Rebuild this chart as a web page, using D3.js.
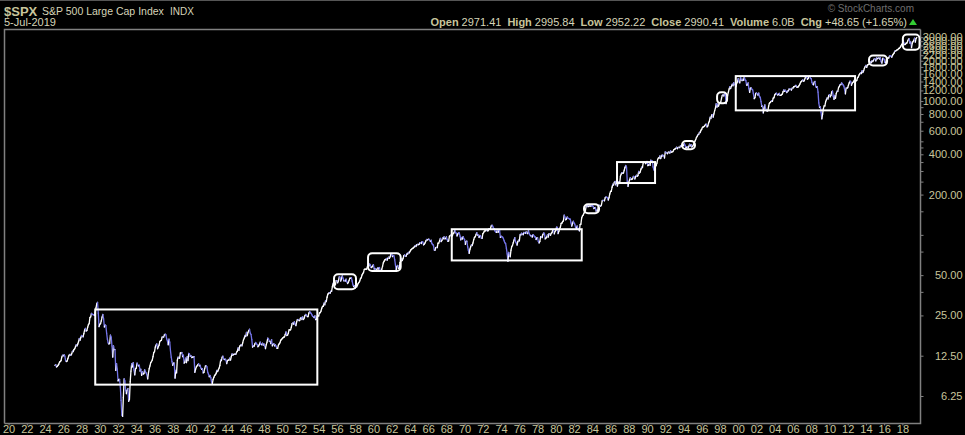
<!DOCTYPE html>
<html><head><meta charset="utf-8">
<script src="https://cdn.jsdelivr.net/npm/d3@7"></script>
<style>
html,body{margin:0;padding:0;background:#000;}
svg{display:block;font-family:"Liberation Sans",Arial,sans-serif;}
</style></head>
<body>
<svg id="chart" width="965" height="435"></svg>
<script>
// ---- data ----
const startYear = 1925;           // first monthly close is Jan 1925
const monthlyClose = [
// 1925
10.6,10.7,10.3,10.4,10.6,10.8,11.2,11.3,11.5,12.2,12.6,12.5,
// 1926
12.7,12.4,11.5,11.3,11.4,11.9,12.4,12.7,12.8,12.6,12.9,13.5,
// 1927
13.4,13.9,14.1,14.6,15.1,14.8,15.3,15.9,16.8,16.3,17.1,17.7,
// 1928
17.5,17.3,18.3,19.4,20.0,19.1,19.3,20.4,21.3,21.7,24.1,24.4,
// 1929
25.9,25.5,25.4,25.3,25.0,26.5,28.5,30.5,31.3,26.0,20.6,21.5,
// 1930
21.7,22.8,24.3,25.4,23.6,20.5,21.2,21.0,18.4,16.6,15.6,15.3,
// 1931
15.5,17.8,17.2,14.8,12.2,14.8,13.9,13.9,9.7,10.9,9.9,8.1,
// 1932
8.3,8.3,7.3,5.8,4.5,4.4,6.1,8.4,8.1,6.9,6.5,6.9,
// 1933
7.1,5.7,5.9,8.0,9.6,10.9,10.3,11.1,9.8,9.0,10.0,10.1,
// 1934
11.0,10.7,10.5,10.6,9.6,9.9,8.9,9.5,9.1,9.2,9.8,9.5,
// 1935
9.3,9.0,8.4,9.3,10.0,10.5,11.1,11.3,11.6,12.3,13.2,13.4,
// 1936
14.5,15.0,15.3,14.1,14.6,15.0,16.0,16.2,16.3,17.2,17.3,17.2,
// 1937
17.9,18.1,17.9,16.7,16.1,15.1,16.6,15.8,13.6,12.2,11.3,10.6,
// 1938
11.0,11.0,8.5,9.7,9.3,11.6,12.2,12.0,12.0,13.1,13.1,13.2,
// 1939
12.3,12.6,11.0,11.2,12.0,11.1,12.3,11.5,13.0,12.9,12.4,12.5,
// 1940
12.1,12.2,12.2,12.3,9.4,9.9,10.3,10.5,10.7,10.9,10.5,10.6,
// 1941
10.1,9.9,10.0,9.3,9.4,10.0,10.5,10.5,10.3,9.4,9.1,8.7,
// 1942
8.9,8.6,8.0,7.7,8.3,8.6,8.9,9.0,9.2,9.7,9.5,9.8,
// 1943
10.1,10.6,11.6,11.5,12.2,12.4,11.8,11.7,11.8,11.6,10.9,11.5,
// 1944
11.6,11.6,12.0,11.6,12.3,12.9,12.6,12.8,12.8,12.9,12.8,13.3,
// 1945
13.5,14.3,13.7,14.7,14.9,15.1,14.8,15.6,16.4,16.9,17.7,17.4,
// 1946
18.7,17.7,18.7,19.2,19.7,18.4,18.0,16.5,14.5,14.8,14.7,15.3,
// 1947
15.7,15.4,15.2,14.6,14.8,15.2,15.8,15.2,15.1,15.5,15.0,15.3,
// 1948
14.7,14.1,15.1,15.8,16.9,16.7,16.0,16.0,15.4,16.5,14.8,15.2,
// 1949
15.4,14.8,15.1,14.7,14.2,14.2,15.0,15.3,15.6,16.3,16.5,16.8,
// 1950
17.0,17.2,17.3,18.0,18.8,17.7,17.8,18.4,19.5,19.5,19.5,20.4,
// 1951
21.7,22.0,21.5,22.4,21.5,21.0,22.4,23.3,23.3,22.9,22.9,23.8,
// 1952
24.1,23.3,24.4,23.3,23.9,25.0,25.4,25.0,24.5,24.5,26.0,26.6,
// 1953
26.4,25.9,25.3,24.6,24.5,24.1,24.8,23.3,23.4,24.5,24.8,24.8,
// 1954
26.1,26.2,26.9,28.3,29.2,29.2,30.9,30.0,32.3,31.7,34.2,36.0,
// 1955
36.6,37.0,36.6,38.0,37.9,41.0,43.5,43.2,43.7,42.3,45.5,45.5,
// 1956
43.8,45.3,48.5,48.4,45.2,47.0,49.4,47.5,45.4,45.6,45.1,46.7,
// 1957
44.7,43.3,44.1,45.7,47.4,47.4,47.9,45.2,42.4,41.1,41.7,40.0,
// 1958
41.7,40.8,42.1,43.4,44.1,45.2,47.2,47.8,50.1,51.3,52.5,55.2,
// 1959
55.4,55.4,55.4,57.6,58.7,58.5,60.5,59.6,56.9,57.5,58.3,59.9,
// 1960
55.6,56.1,55.3,54.4,55.8,56.9,55.5,57.0,53.5,53.4,55.5,58.1,
// 1961
61.8,63.4,65.1,65.3,66.6,64.6,66.8,68.1,66.7,68.6,71.3,71.6,
// 1962
68.8,70.0,69.6,65.2,59.6,54.8,58.2,59.1,56.3,56.5,62.3,63.1,
// 1963
66.2,64.3,66.6,69.8,70.8,69.4,69.1,72.5,71.7,74.0,73.2,75.0,
// 1964
77.0,77.8,79.0,79.5,80.4,81.7,83.2,81.8,84.2,84.9,84.4,84.8,
// 1965
87.6,87.4,86.2,89.1,88.4,84.1,85.3,87.2,90.0,92.4,91.6,92.4,
// 1966
92.9,91.2,89.2,91.1,86.1,84.7,83.6,77.1,76.6,80.2,80.5,80.3,
// 1967
86.6,86.8,90.2,94.0,89.1,90.6,94.8,93.6,96.7,93.3,94.0,96.5,
// 1968
92.2,89.4,90.2,97.6,98.7,99.6,97.7,98.9,102.7,103.4,108.4,103.9,
// 1969
103.0,98.1,101.5,103.7,103.5,97.7,91.8,95.5,93.1,97.1,93.8,92.1,
// 1970
85.0,89.5,89.6,81.5,76.6,72.7,78.1,81.5,84.2,83.3,87.2,92.2,
// 1971
95.9,96.8,100.3,104.0,99.6,99.7,95.6,99.0,98.3,94.2,94.0,102.1,
// 1972
103.9,106.6,107.2,107.7,109.5,107.1,107.4,111.1,110.6,111.6,116.7,118.1,
// 1973
116.0,111.7,111.5,107.0,105.0,104.3,108.2,104.3,108.4,108.3,96.0,97.6,
// 1974
96.6,96.2,94.0,90.3,87.3,86.0,79.3,72.2,63.5,73.9,70.0,68.6,
// 1975
77.0,81.6,83.4,87.3,91.2,95.2,88.8,86.9,83.9,89.0,91.2,90.2,
// 1976
100.9,99.7,102.8,101.6,100.2,104.3,103.4,102.9,105.2,102.9,102.1,107.5,
// 1977
102.0,99.8,98.4,98.4,96.1,100.5,98.9,96.8,96.5,92.3,94.8,95.1,
// 1978
89.3,87.0,89.2,96.8,97.3,95.5,100.7,103.3,102.5,93.2,94.7,96.1,
// 1979
99.9,96.3,101.6,101.8,99.1,102.9,103.8,109.3,109.3,101.8,106.2,107.9,
// 1980
114.2,113.7,102.1,106.3,111.2,114.2,121.7,122.4,125.5,127.5,140.5,135.8,
// 1981
129.6,131.3,136.0,132.8,132.6,131.2,130.9,122.8,116.2,121.9,126.4,122.6,
// 1982
120.4,113.1,112.0,116.4,111.9,109.6,107.1,119.5,120.4,133.7,138.5,140.6,
// 1983
145.3,148.1,153.0,164.4,162.4,168.1,162.6,164.4,166.1,163.6,166.4,164.9,
// 1984
163.4,157.1,159.2,160.1,150.6,153.2,150.7,166.7,166.1,166.1,163.6,167.2,
// 1985
179.6,181.2,180.7,179.8,189.6,191.9,190.9,188.6,182.1,189.8,202.2,211.3,
// 1986
211.8,226.9,238.9,235.5,247.4,250.8,236.1,252.9,231.3,244.0,249.2,242.2,
// 1987
274.1,284.2,291.7,288.4,290.1,304.0,318.7,329.8,321.8,251.8,230.3,247.1,
// 1988
257.1,267.8,258.9,261.3,262.2,273.5,272.0,261.5,271.9,279.0,273.7,277.7,
// 1989
297.5,288.9,294.9,309.6,320.5,318.0,346.1,351.5,349.2,340.4,346.0,353.4,
// 1990
329.1,331.9,339.9,330.8,361.2,358.0,356.2,322.6,306.1,304.0,322.2,330.2,
// 1991
343.9,367.1,375.2,375.3,389.8,371.2,387.8,395.4,387.9,392.5,375.2,417.1,
// 1992
408.8,412.7,403.7,415.0,415.4,408.1,424.2,414.0,417.8,418.7,431.4,435.7,
// 1993
438.8,443.4,451.7,440.2,450.2,450.5,448.1,463.6,458.9,467.8,461.8,466.5,
// 1994
481.6,467.1,445.8,450.9,456.5,444.3,458.3,475.5,462.7,472.4,453.7,459.3,
// 1995
470.4,487.4,500.7,514.7,533.4,544.8,562.1,561.9,584.4,581.5,605.4,615.9,
// 1996
636.0,640.4,645.5,654.2,669.1,670.6,640.0,652.0,687.3,705.3,757.0,740.7,
// 1997
786.2,790.8,757.1,801.3,848.3,885.1,954.3,899.5,947.3,914.6,955.4,970.4,
// 1998
980.3,1049.3,1101.8,1111.8,1090.8,1133.8,1120.7,957.3,1017.0,1098.7,1163.6,1229.2,
// 1999
1279.6,1238.3,1286.4,1335.2,1301.8,1372.7,1328.7,1320.4,1282.7,1362.9,1388.9,1469.3,
// 2000
1394.5,1366.4,1498.6,1452.4,1420.6,1454.6,1430.8,1517.7,1436.5,1429.4,1315.2,1320.3,
// 2001
1366.0,1239.9,1160.3,1249.5,1255.8,1224.4,1211.2,1133.6,1040.9,1059.8,1139.5,1148.1,
// 2002
1130.2,1106.7,1147.4,1076.9,1067.1,989.8,911.6,916.1,815.3,885.8,936.3,879.8,
// 2003
855.7,841.2,848.2,916.9,963.6,974.5,990.3,1008.0,996.0,1050.7,1058.2,1111.9,
// 2004
1131.1,1144.9,1126.2,1107.3,1120.7,1140.8,1101.7,1104.2,1114.6,1130.2,1173.8,1211.9,
// 2005
1181.3,1203.6,1180.6,1156.9,1191.5,1191.3,1234.2,1220.3,1228.8,1207.0,1249.5,1248.3,
// 2006
1280.1,1280.7,1294.9,1310.6,1270.1,1270.2,1276.7,1303.8,1335.9,1377.9,1400.6,1418.3,
// 2007
1438.2,1406.8,1420.9,1482.4,1530.6,1503.4,1455.3,1474.0,1526.8,1549.4,1481.1,1468.4,
// 2008
1378.6,1330.6,1322.7,1385.6,1400.4,1280.0,1267.4,1282.8,1166.4,968.8,896.2,903.3,
// 2009
825.9,735.1,797.9,872.8,919.1,919.3,987.5,1020.6,1057.1,1036.2,1095.6,1115.1,
// 2010
1073.9,1104.5,1169.4,1186.7,1089.4,1030.7,1101.6,1049.3,1141.2,1183.3,1180.6,1257.6,
// 2011
1286.1,1327.2,1325.8,1363.6,1345.2,1320.6,1292.3,1218.9,1131.4,1253.3,1247.0,1257.6,
// 2012
1312.4,1365.7,1408.5,1397.9,1310.3,1362.2,1379.3,1406.6,1440.7,1412.2,1416.2,1426.2,
// 2013
1498.1,1514.7,1569.2,1597.6,1630.7,1606.3,1685.7,1633.0,1681.6,1756.5,1805.8,1848.4,
// 2014
1782.6,1859.5,1872.3,1884.0,1923.6,1960.2,1930.7,2003.4,1972.3,2018.1,2067.6,2058.9,
// 2015
1995.0,2104.5,2067.9,2085.5,2107.4,2063.1,2103.8,1972.2,1920.0,2079.4,2080.4,2043.9,
// 2016
1940.2,1932.2,2059.7,2065.3,2097.0,2098.9,2173.6,2171.0,2168.3,2126.2,2199.0,2238.8,
// 2017
2278.9,2363.6,2362.7,2384.2,2411.8,2423.4,2470.3,2471.7,2519.4,2575.3,2647.6,2673.6,
// 2018
2823.8,2713.8,2640.9,2648.1,2705.3,2718.4,2816.3,2901.5,2914.0,2711.7,2760.2,2506.9,
// 2019
2704.1,2784.5,2834.4,2945.8,2752.1,2941.8,2990.4
];

const xTickYears = d3.range(1920, 2019, 2);
const yTickLabels = [6.25, 12.5, 25, 50, 200, 400, 600, 800, 1000, 1200, 1400, 1600, 1800, 2000, 2200, 2400, 2600, 2800, 3000];
const yMinorTicks = [37.5, 75, 100, 150, 250, 300, 350, 450, 500, 700, 900];

// annotation boxes: [fromYear, toYear, lowValue, highValue, rounded]
const boxFrom    = [1929.5, 1955.68, 1959.41, 1968.59, 1983.09, 1986.71, 1993.84, 1997.68, 1999.73, 2014.34, 2018.05];
const boxTo      = [1953.85, 1958.09, 1962.99, 1982.84, 1984.74, 1990.88, 1995.26, 1998.78, 2012.81, 2016.32, 2019.88];
const boxLow     = [7.6, 39.3, 53.8, 64.4, 145, 244, 436, 961, 852, 1846, 2419];
const boxHigh    = [27.7, 50.8, 72.9, 110.2, 169, 350, 503, 1161, 1536, 2192, 3145];
const boxRounded = [0, 1, 1, 0, 1, 0, 1, 1, 0, 1, 1];

const headerSymbol = "$SPX";
const headerName = "S&P 500 Large Cap Index";
const headerExch = "INDX";
const headerDate = "5-Jul-2019";
const quoteLabels = ["Open", "High", "Low", "Close", "Volume", "Chg"];
const quoteValues = ["2971.41", "2995.84", "2952.22", "2990.41", "6.0B", "+48.65 (+1.65%)"];

// ---- drawing ----
const svg = d3.select("#chart");
const W = 965, H = 435;
const plot = {left: 4, right: 920, top: 29, bottom: 423};
const khaki = "#c8c59c", light = "#d6d4b8", grid = "#808080";
const FONT = "Liberation Sans, Arial, sans-serif";

const x = d3.scaleLinear().domain([1920, 2018]).range([8.6, 902.4]);
const y = d3.scaleLog().base(2).domain([6.25, 400]).range([396, 154.3]);

const pts = monthlyClose.map((v, i) => ({t: startYear + (i + 1) / 12, v}));

svg.append("rect").attr("width", W).attr("height", H).attr("fill", "#000");

// frame
svg.append("line").attr("x1", 0).attr("x2", W).attr("y1", 0.5).attr("y2", 0.5).attr("stroke", "#555");
svg.append("path")
  .attr("d", `M${plot.left + 0.5},${plot.bottom + 0.5}V${plot.top + 0.5}H${plot.right + 0.5}`)
  .attr("fill", "none").attr("stroke", grid).attr("stroke-width", 1.5);
svg.append("path")
  .attr("d", `M${plot.left + 0.5},${plot.bottom + 0.5}H${plot.right + 0.5}V${plot.top + 0.5}`)
  .attr("fill", "none").attr("stroke", grid).attr("stroke-width", 1.5);

// price line: down moves blue, up moves white
const clipId = "plotclip";
svg.append("clipPath").attr("id", clipId).append("rect")
  .attr("x", plot.left + 1).attr("y", plot.top + 1)
  .attr("width", plot.right - plot.left - 1).attr("height", plot.bottom - plot.top - 1);
const lineG = svg.append("g").attr("clip-path", `url(#${clipId})`);
d3.pairs(pts).forEach(([a, b]) => {
  lineG.append("line")
    .attr("x1", x(a.t)).attr("y1", y(a.v))
    .attr("x2", x(b.t)).attr("y2", y(b.v))
    .attr("stroke", b.v >= a.v ? "#ffffff" : "#7474e8")
    .attr("stroke-width", 1.3)
    .attr("stroke-linecap", "round");
});

// annotation boxes
const boxG = svg.append("g");
boxFrom.forEach((f, i) => {
  const x0 = x(f), x1 = x(boxTo[i]), y0 = y(boxHigh[i]), y1 = y(boxLow[i]);
  boxG.append("rect")
    .attr("x", x0).attr("y", y0).attr("width", x1 - x0).attr("height", y1 - y0)
    .attr("rx", boxRounded[i] ? 4 : 0).attr("ry", boxRounded[i] ? 4 : 0)
    .attr("fill", "none").attr("stroke", "#ffffff").attr("stroke-width", 2);
});

// x axis
const xAxis = d3.axisBottom(x).tickValues(xTickYears).tickSize(2).tickPadding(1)
  .tickFormat(d => String(d % 100).padStart(2, "0"));
const xg = svg.append("g").attr("transform", `translate(0,${plot.bottom + 0.5})`).call(xAxis);
xg.select(".domain").remove();
xg.selectAll(".tick line").attr("stroke", grid);
xg.selectAll(".tick text").attr("fill", khaki).attr("font-size", 11)
  .attr("font-family", FONT).attr("dy", "0.6em");

// y axis (right)
const yAxis = d3.axisRight(y).tickValues(yTickLabels).tickSize(3).tickPadding(0)
  .tickFormat(d => d.toFixed(2));
const yg = svg.append("g").attr("transform", `translate(${plot.right + 0.5},0)`).call(yAxis);
yg.select(".domain").remove();
yg.selectAll(".tick line").attr("stroke", grid);
yg.selectAll(".tick text").attr("fill", khaki).attr("font-size", 11)
  .attr("font-family", FONT)
  .attr("text-anchor", "end").attr("x", 42);
const yMinor = d3.axisRight(y).tickValues(yMinorTicks).tickSize(3).tickFormat("");
const ym = svg.append("g").attr("transform", `translate(${plot.right + 0.5},0)`).call(yMinor);
ym.select(".domain").remove();
ym.selectAll(".tick line").attr("stroke", grid);

// header
const h = svg.append("g").attr("font-family", FONT);
h.append("text").attr("x", 4).attr("y", 16).attr("font-size", 13).attr("font-weight", "bold")
  .attr("fill", khaki).text(headerSymbol);
h.append("text").attr("x", 42).attr("y", 15).attr("font-size", 10.5).attr("fill", light).text(headerName);
h.append("text").attr("x", 170).attr("y", 15).attr("font-size", 10).attr("fill", light).text(headerExch);
h.append("text").attr("x", 4).attr("y", 26).attr("font-size", 11).attr("fill", light).text(headerDate);
h.append("text").attr("x", 914).attr("y", 12).attr("font-size", 10).attr("text-anchor", "end")
  .attr("fill", "#6e6e6e").text("© StockCharts.com");

const q = h.append("text").attr("x", 907).attr("y", 26).attr("font-size", 11).attr("text-anchor", "end");
quoteLabels.forEach((lab, i) => {
  q.append("tspan").attr("font-weight", "bold").attr("fill", khaki)
    .attr("dx", i === 0 ? 0 : 6).text(lab);
  q.append("tspan").attr("fill", light).attr("dx", 3).text(quoteValues[i]);
});
h.append("path").attr("d", "M909,25L913,19L917,25Z").attr("fill", "#33cc33");
</script>
</body></html>
